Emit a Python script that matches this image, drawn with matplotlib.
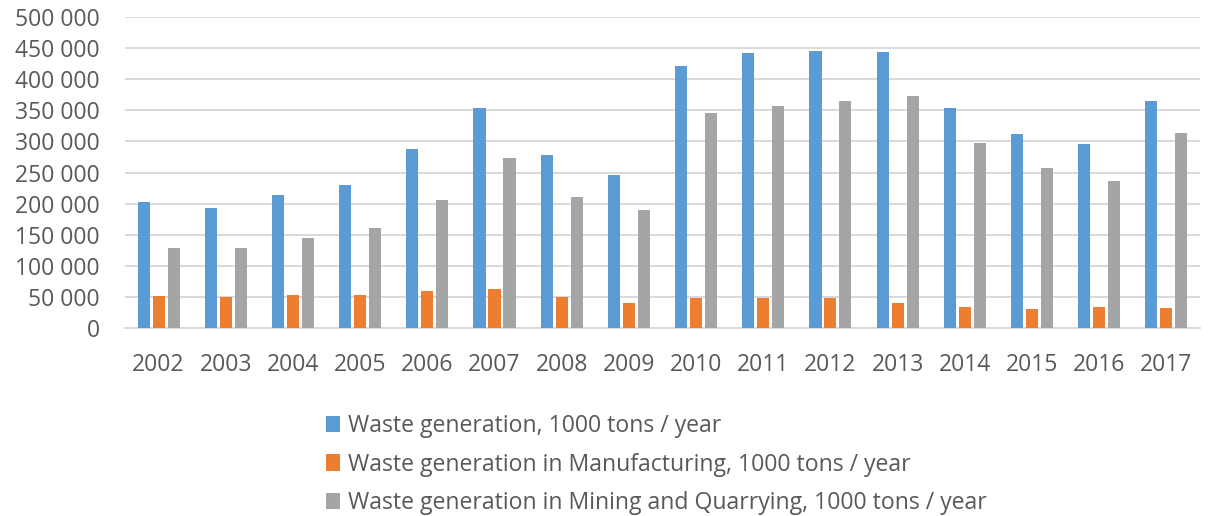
import numpy as np
import matplotlib
matplotlib.use("Agg")
import matplotlib.pyplot as plt
from matplotlib.ticker import FuncFormatter, MultipleLocator

years = [str(y) for y in range(2002, 2018)]
total = [202900, 193800, 214100, 230700, 288000, 353800, 277900, 245700,
         421900, 442800, 446000, 444400, 354500, 311600, 295500, 365700]
manufacturing = [51400, 49300, 53500, 54100, 59400, 63100, 49800, 39700,
                 47700, 48700, 48700, 40200, 34800, 30500, 34300, 32100]
mining = [129600, 129600, 145600, 161100, 206700, 273500, 210900, 190600,
          346400, 357100, 364600, 372600, 297100, 257500, 237200, 313700]

labels = ["Waste generation, 1000 tons / year",
          "Waste generation in Manufacturing, 1000 tons / year",
          "Waste generation in Mining and Quarrying, 1000 tons / year"]
colors = ["#5b9bd5", "#ed7d31", "#a5a5a5"]

plt.rcParams['font.family'] = ['Open Sans', 'DejaVu Sans']
txt = "#595959"

fig = plt.figure(figsize=(12.1, 5.16), dpi=100)
ax = fig.add_axes([0.1033, 0.364, 0.8884, 0.603])

x = np.arange(len(years))
w = 0.18
step = 0.223
bars = []
for i, (vals, c) in enumerate(zip([total, manufacturing, mining], colors)):
    b = ax.bar(x + (i - 1) * step, vals, width=w, color=c, zorder=3)
    bars.append(b)

ax.set_xlim(-0.5, len(years) - 0.5)
ax.set_ylim(0, 500000)
ax.yaxis.set_major_locator(MultipleLocator(50000))
ax.yaxis.set_major_formatter(FuncFormatter(lambda v, p: f"{int(v):,}".replace(",", " ")))
ax.set_xticks(x)
ax.set_xticklabels(years)
ax.grid(axis="y", color="#d9d9d9", linewidth=1.4, zorder=0)
for s in ["top", "right", "left"]:
    ax.spines[s].set_visible(False)
ax.spines["bottom"].set_color("#d9d9d9")
ax.spines["bottom"].set_linewidth(1.4)
ax.tick_params(axis="both", length=0, labelsize=16.5, colors=txt)
ax.tick_params(axis="y", pad=18)
ax.tick_params(axis="x", pad=18)

# legend below the plot, one entry per row
fig.legend(bars, labels, loc="upper left",
           bbox_to_anchor=(0.262, 1 - 405 / 516),
           frameon=False, fontsize=16.6, labelcolor=txt, handlelength=0.6,
           handleheight=0.7, handletextpad=0.35, labelspacing=0.62,
           borderaxespad=0)

fig.savefig("out.png", dpi=100)
